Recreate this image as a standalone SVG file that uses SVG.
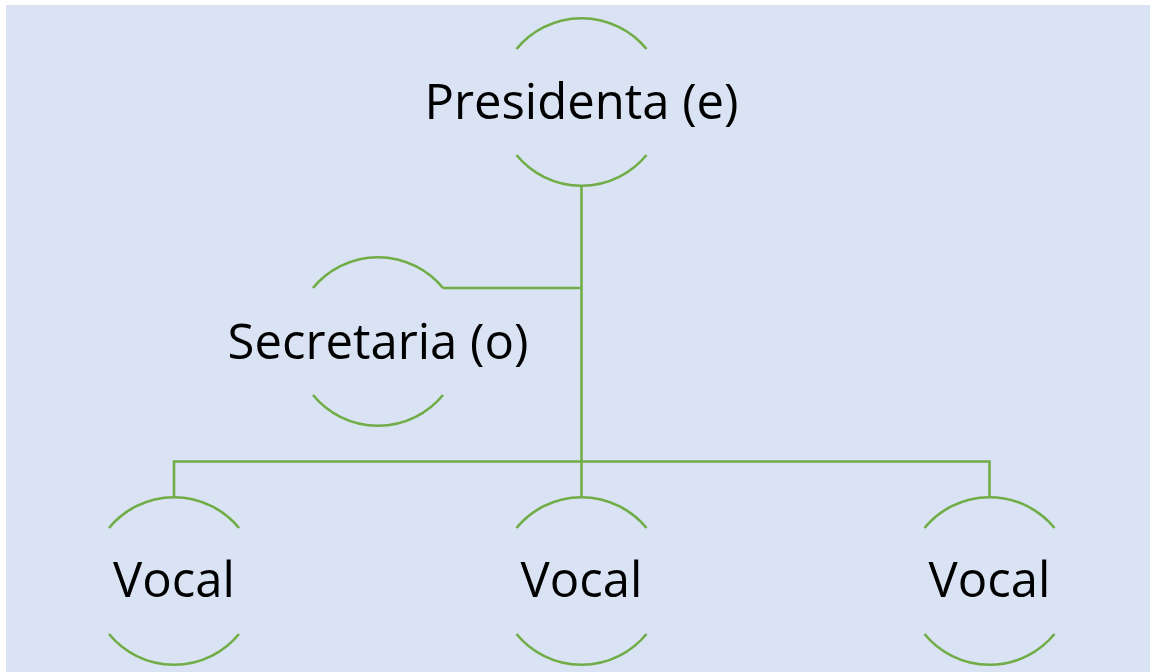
<svg xmlns="http://www.w3.org/2000/svg" width="1150" height="672" viewBox="0 0 1150 672">
<style>
.arc{fill:none;stroke:#70AD47;stroke-width:2.6}
.con{fill:none;stroke:#70AD47;stroke-width:2.6}
.lbl{font-family:"Open Sans","Liberation Sans",sans-serif;font-size:49px;fill:#000;text-anchor:middle}
</style>
<rect x="0" y="0" width="1150" height="672" fill="#FFFFFF"/>
<rect x="6" y="5" width="1144" height="667" fill="#DAE3F3"/>
<g id="connectors">
<path class="con" d="M581.5,186 V497"/>
<path class="con" d="M443,288 H581.5"/>
<path class="con" d="M174,497 V461.5 H989.5 V497"/>
</g>
<g id="presidenta">
<path class="arc" d="M516.5,49 A84,84 0 0 1 646.5,49"/>
<path class="arc" d="M516.5,155 A84,84 0 0 0 646.5,155"/>
<text class="lbl" x="581.5" y="119">Presidenta (e)</text>
</g>
<g id="secretaria">
<path class="arc" d="M313,288 A84,84 0 0 1 443,288"/>
<path class="arc" d="M313,395 A84,84 0 0 0 443,395"/>
<text class="lbl" x="378" y="358.5">Secretaria (o)</text>
</g>
<g id="vocal1">
<path class="arc" d="M109,528 A84,84 0 0 1 239,528"/>
<path class="arc" d="M109,634 A84,84 0 0 0 239,634"/>
<text class="lbl" x="174" y="597">Vocal</text>
</g>
<g id="vocal2">
<path class="arc" d="M516.5,528 A84,84 0 0 1 646.5,528"/>
<path class="arc" d="M516.5,634 A84,84 0 0 0 646.5,634"/>
<text class="lbl" x="581.5" y="597">Vocal</text>
</g>
<g id="vocal3">
<path class="arc" d="M924.5,528 A84,84 0 0 1 1054.5,528"/>
<path class="arc" d="M924.5,634 A84,84 0 0 0 1054.5,634"/>
<text class="lbl" x="989.5" y="597">Vocal</text>
</g>
</svg>
